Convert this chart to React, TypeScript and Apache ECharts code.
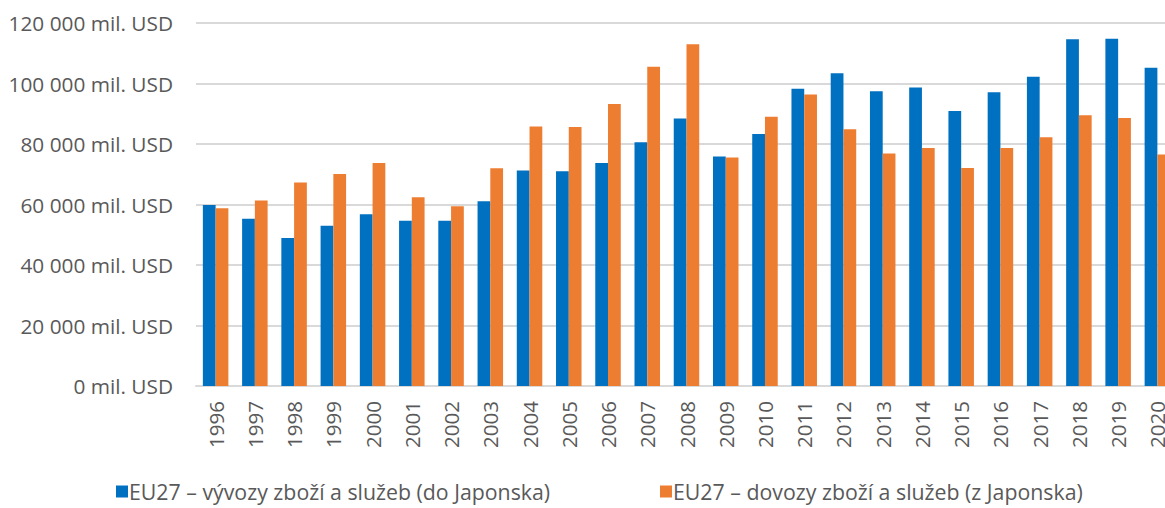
import React, { useEffect, useRef } from "react";
import * as echarts from "echarts";

const years = ["1996","1997","1998","1999","2000","2001","2002","2003","2004","2005","2006","2007","2008","2009","2010","2011","2012","2013","2014","2015","2016","2017","2018","2019","2020"];
const exportsEU = [59800,55300,48900,53000,56800,54600,54600,61100,71200,71000,73700,80600,88400,75900,83300,98300,103400,97400,98700,90900,97100,102200,114600,114800,105200];
const importsEU = [58800,61300,67300,70100,73700,62400,59400,72000,85800,85600,93200,105500,113000,75500,89000,96400,84900,76900,78700,72100,78700,82200,89500,88600,76500];
const seriesNames = ["EU27 – vývozy zboží a služeb (do Japonska)", "EU27 – dovozy zboží a služeb (z Japonska)"];

const fmt = (v: number) => {
  const s = String(Math.round(v));
  return s.replace(/\B(?=(\d{3})+(?!\d))/g, " ") + " mil. USD";
};

export default function App() {
  const ref = useRef<HTMLDivElement>(null);
  useEffect(() => {
    if (!ref.current) return;
    const chart = echarts.init(ref.current, undefined, { renderer: "svg" });
    const font = "Open Sans";
    const legendBase = {
      bottom: 1,
      itemWidth: 12,
      itemHeight: 12,
      itemGap: 5,
      icon: "rect",
      textStyle: { fontFamily: font, fontSize: 21.3, color: "#595959", padding: [0, 0, 0, -4] },
    };
    chart.setOption({
      animation: false,
      textStyle: { fontFamily: font },
      grid: { left: 196, top: 23, right: 23, bottom: 122, containLabel: false },
      legend: [
        { ...legendBase, left: 111, data: [seriesNames[0]] },
        { ...legendBase, left: 655, data: [seriesNames[1]] },
      ],
      xAxis: {
        type: "category",
        data: years,
        axisLine: { lineStyle: { color: "#d9d9d9", width: 2 } },
        axisTick: { show: false },
        axisLabel: { rotate: 90, color: "#595959", fontSize: 20.5, fontFamily: font, margin: 15 },
      },
      yAxis: {
        type: "value",
        min: 0,
        max: 120000,
        interval: 20000,
        axisLine: { show: false },
        axisTick: { show: false },
        splitLine: { lineStyle: { color: "#d9d9d9", width: 2 } },
        axisLabel: { color: "#595959", fontSize: 20.8, fontFamily: font, margin: 23, formatter: fmt },
      },
      series: [
        {
          name: seriesNames[0],
          type: "bar",
          data: exportsEU,
          barGap: "0%",
          barCategoryGap: "35%",
          itemStyle: { color: "#0070C0" },
        },
        {
          name: seriesNames[1],
          type: "bar",
          data: importsEU,
          barGap: "0%",
          barCategoryGap: "35%",
          itemStyle: { color: "#ED7D31" },
        },
      ],
    });
    return () => chart.dispose();
  }, []);
  return (
    <div style={{ position: "fixed", left: 0, top: 0, width: 1165, height: 508, overflow: "hidden", background: "#fff" }}>
      <div ref={ref} style={{ width: 1200, height: 508 }} />
    </div>
  );
}
